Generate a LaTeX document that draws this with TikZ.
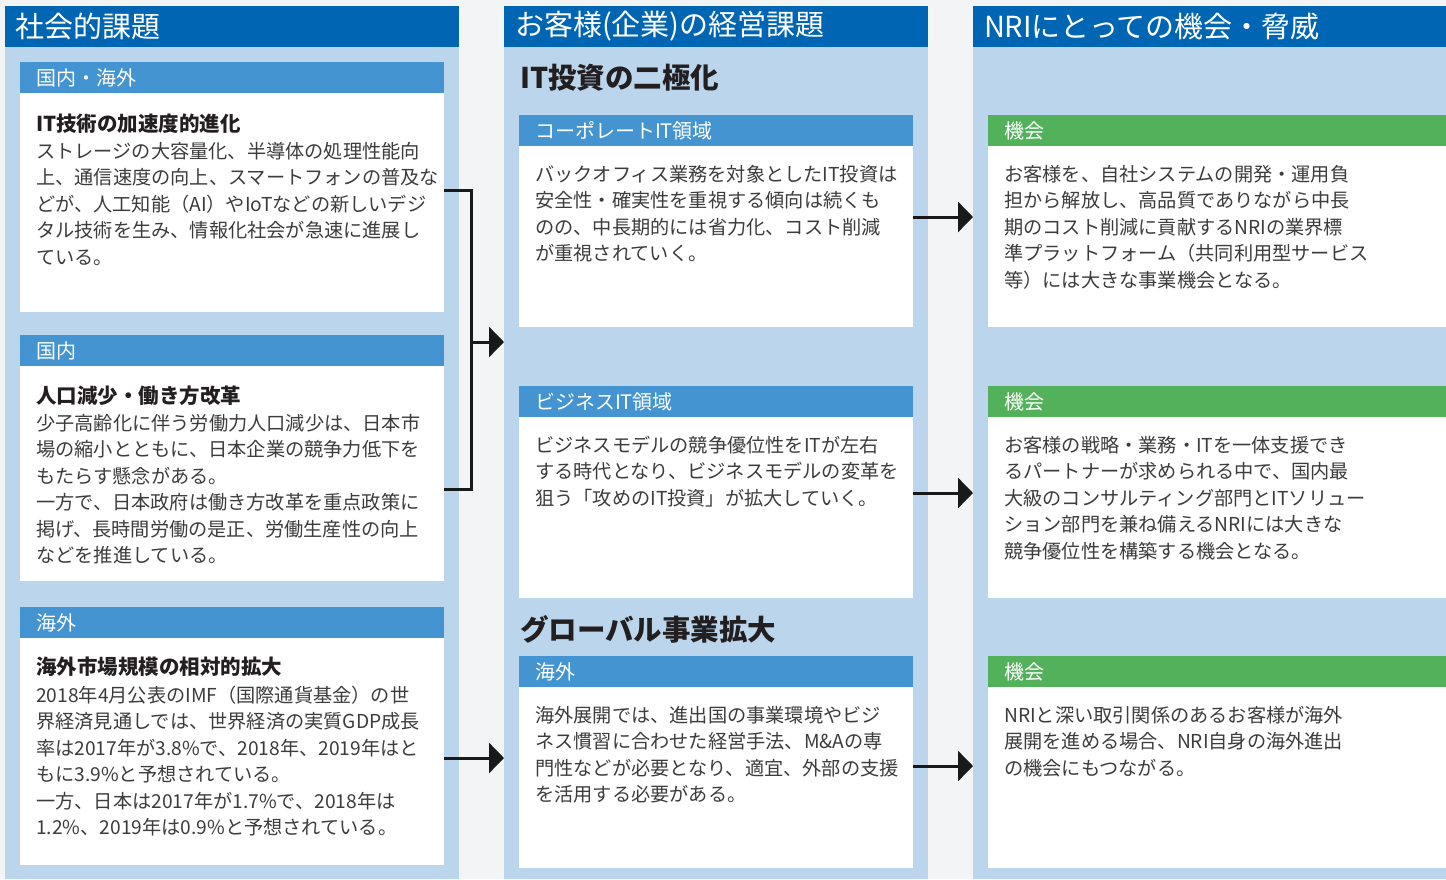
\documentclass[tikz,border=0pt]{standalone}
\usepackage{fontspec}
\setmainfont{Noto Sans CJK JP}
\usetikzlibrary{arrows.meta}

\definecolor{headblue}{HTML}{0066B3}
\definecolor{paleblue}{HTML}{BBD5EC}
\definecolor{midblue}{HTML}{4394D0}
\definecolor{chancegreen}{HTML}{52B15A}
\definecolor{bodygray}{HTML}{3C3C3C}
\definecolor{titleblack}{HTML}{231F20}
\definecolor{backgray}{HTML}{F3F4F5}

\tikzset{
  panel/.style={anchor=north west,inner sep=0pt,outer sep=0pt,fill=paleblue},
  colhead/.style={anchor=north west,fill=headblue,text=white,minimum height=41pt,
    inner xsep=11pt,inner ysep=0pt,outer sep=0pt,align=left,font=\fontsize{29}{34}\selectfont},
  subhead/.style={anchor=north west,fill=midblue,text=white,minimum height=31pt,
    inner xsep=16pt,inner ysep=0pt,outer sep=0pt,align=left,font=\fontsize{20}{24}\selectfont},
  chancehead/.style={subhead,fill=chancegreen},
  whitebox/.style={anchor=north west,inner sep=0pt,outer sep=0pt,fill=white},
  boxtitle/.style={anchor=base west,inner sep=0pt,text=titleblack,font=\fontsize{20.5}{26}\bfseries},
  bigtitle/.style={anchor=base west,inner sep=0pt,text=titleblack,font=\fontsize{28.5}{34}\bfseries},
  % anchored on the baseline of the last line
  bodytext/.style={anchor=base west,inner sep=0pt,align=left,text=bodygray,font=\fontsize{19.2}{26.5}\selectfont},
  conn/.style={line width=3pt,draw=black!90},
  arrowline/.style={conn,-{Triangle[length=15pt,width=30pt]}}
}

\begin{document}
\begin{tikzpicture}[x=1pt,y=-1pt]

\fill[backgray] (0,0) rectangle (1446,879);

% columns
\node[panel,minimum width=454pt,minimum height=873pt] (col1) at (5,6) {};
\node[panel,minimum width=424pt,minimum height=873pt] (col2) at (504,6) {};
\node[panel,minimum width=473pt,minimum height=873pt] (col3) at (973,6) {};

\node[colhead,text width=432pt] (h1) at (5,6) {社会的課題};
\node[colhead,text width=402pt] (h2) at (504,6) {お客様(企業)の経営課題};
\node[colhead,text width=451pt] (h3) at (973,6) {NRIにとっての機会・脅威};

% left column
\node[subhead,text width=392pt] (s1) at (20,62) {国内・海外};
\node[whitebox,minimum width=424pt,minimum height=219pt] (b1) at (20,93) {};
\node[boxtitle] (t1) at (36,131) {IT技術の加速度的進化};
\node[bodytext] (x1) at (36,264.3) {ストレージの大容量化、半導体の処理性能向\\
上、通信速度の向上、スマートフォンの普及な\\
どが、人工知能（AI）やIoTなどの新しいデジ\\
タル技術を生み、情報化社会が急速に進展し\\
ている。};

\node[subhead,text width=392pt] (s2) at (20,335) {国内};
\node[whitebox,minimum width=424pt,minimum height=215pt] (b2) at (20,366) {};
\node[boxtitle] (t2) at (36,403) {人口減少・働き方改革};
\node[bodytext] (x2) at (36,562.8) {少子高齢化に伴う労働力人口減少は、日本市\\
場の縮小とともに、日本企業の競争力低下を\\
もたらす懸念がある。\\
一方で、日本政府は働き方改革を重点政策に\\
掲げ、長時間労働の是正、労働生産性の向上\\
などを推進している。};

\node[subhead,text width=392pt] (s3) at (20,607) {海外};
\node[whitebox,minimum width=424pt,minimum height=227pt] (b3) at (20,638) {};
\node[boxtitle] (t3) at (36,674) {海外市場規模の相対的拡大};
\node[bodytext] (x3) at (36,834.8) {2018年4月公表のIMF（国際通貨基金）の世\\
界経済見通しでは、世界経済の実質GDP成長\\
率は2017年が3.8\%で、2018年、2019年はと\\
もに3.9\%と予想されている。\\
一方、日本は2017年が1.7\%で、2018年は\\
1.2\%、2019年は0.9\%と予想されている。};

% middle column
\node[bigtitle] (g1) at (520,88.8) {IT投資の二極化};
\node[subhead,text width=362pt] (s4) at (519,115) {コーポレートIT領域};
\node[whitebox,minimum width=394pt,minimum height=181pt] (c1) at (519,146) {};
\node[bodytext] (x4) at (535,260.8) {バックオフィス業務を対象としたIT投資は\\
安全性・確実性を重視する傾向は続くも\\
のの、中長期的には省力化、コスト削減\\
が重視されていく。};

\node[subhead,text width=362pt] (s5) at (519,386) {ビジネスIT領域};
\node[whitebox,minimum width=394pt,minimum height=181pt] (c2) at (519,417) {};
\node[bodytext] (x5) at (535,505.3) {ビジネスモデルの競争優位性をITが左右\\
する時代となり、ビジネスモデルの変革を\\
狙う「攻めのIT投資」が拡大していく。};

\node[bigtitle] (g2) at (520,640.8) {グローバル事業拡大};
\node[subhead,text width=362pt] (s6) at (519,656) {海外};
\node[whitebox,minimum width=394pt,minimum height=181pt] (c3) at (519,687) {};
\node[bodytext] (x6) at (535,801.8) {海外展開では、進出国の事業環境やビジ\\
ネス慣習に合わせた経営手法、M\&Aの専\\
門性などが必要となり、適宜、外部の支援\\
を活用する必要がある。};

% right column
\node[chancehead,text width=426pt] (s7) at (988,115) {機会};
\node[whitebox,minimum width=458pt,minimum height=181pt] (d1) at (988,146) {};
\node[bodytext] (x7) at (1004,287.3) {お客様を、自社システムの開発・運用負\\
担から解放し、高品質でありながら中長\\
期のコスト削減に貢献するNRIの業界標\\
準プラットフォーム（共同利用型サービス\\
等）には大きな事業機会となる。};

\node[chancehead,text width=426pt] (s8) at (988,386) {機会};
\node[whitebox,minimum width=458pt,minimum height=181pt] (d2) at (988,417) {};
\node[bodytext] (x8) at (1004,558.3) {お客様の戦略・業務・ITを一体支援でき\\
るパートナーが求められる中で、国内最\\
大級のコンサルティング部門とITソリュー\\
ション部門を兼ね備えるNRIには大きな\\
競争優位性を構築する機会となる。};

\node[chancehead,text width=426pt] (s9) at (988,656) {機会};
\node[whitebox,minimum width=458pt,minimum height=181pt] (d3) at (988,687) {};
\node[bodytext] (x9) at (1004,775.3) {NRIと深い取引関係のあるお客様が海外\\
展開を進める場合、NRI自身の海外進出\\
の機会にもつながる。};

% connectors
\coordinate (jtop) at (471,190);
\coordinate (jmid) at (471,342);
\coordinate (jbot) at (471,489);
\draw[conn] (b1.east |- jtop) -- (jtop) -- (jbot) -- (b2.east |- jbot);
\draw[arrowline] (jmid) -- (col2.west |- jmid);
\draw[arrowline] (b3.east |- 0,758) -- (col2.west |- 0,758);

\draw[arrowline] (c1.east |- 0,217) -- (col3.west |- 0,217);
\draw[arrowline] (c2.east |- 0,493) -- (col3.west |- 0,493);
\draw[arrowline] (c3.east |- 0,766) -- (col3.west |- 0,766);

\end{tikzpicture}
\end{document}
